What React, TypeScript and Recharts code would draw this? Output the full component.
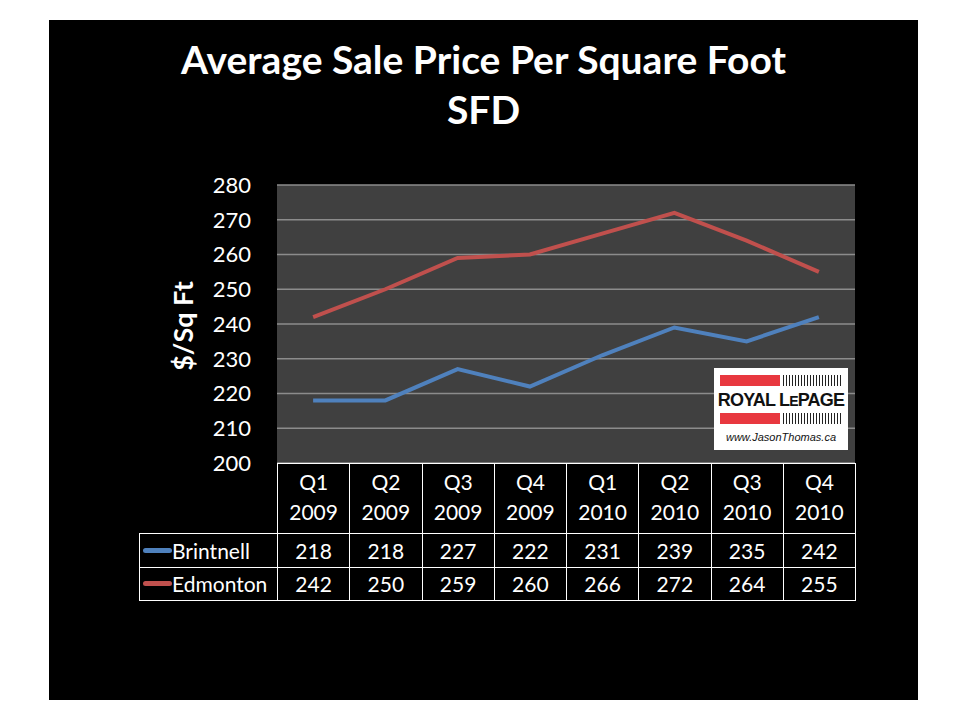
import { LineChart, Line, XAxis, YAxis, CartesianGrid } from "recharts";

const quarters = ["Q1", "Q2", "Q3", "Q4", "Q1", "Q2", "Q3", "Q4"];
const years = ["2009", "2009", "2009", "2009", "2010", "2010", "2010", "2010"];
const brintnell = [218, 218, 227, 222, 231, 239, 235, 242];
const edmonton = [242, 250, 259, 260, 266, 272, 264, 255];
const yTicks = [200, 210, 220, 230, 240, 250, 260, 270, 280];

const series = [
  { name: "Brintnell", values: brintnell, color: "#4F81BD" },
  { name: "Edmonton", values: edmonton, color: "#C0504D" },
];

const data = quarters.map((q, i) => ({
  period: `${q} ${years[i]}`,
  Brintnell: brintnell[i],
  Edmonton: edmonton[i],
}));

const font = "Lato, 'Open Sans', sans-serif";

// plot box
const PL = 277;
const PR = 855;
const PT = 185;
const PB = 463;
const colW = (PR - PL) / quarters.length;
const tableLeft = 139;
const headH = 70;
const rowH = 33.5;

const Logo = () => (
  <div
    style={{
      position: "absolute",
      left: 714,
      top: 368,
      width: 134,
      height: 82,
      background: "#fff",
    }}
  >
    {[7, 45].map((t) => (
      <div key={t}>
        <div style={{ position: "absolute", left: 6, top: t, width: 60, height: 11, background: "#E8383F" }} />
        <div
          style={{
            position: "absolute",
            left: 69,
            top: t,
            width: 60,
            height: 11,
            background:
              "repeating-linear-gradient(90deg, #222 0px, #222 1px, #fff 1px, #fff 3px)",
          }}
        />
      </div>
    ))}
    <div
      style={{
        position: "absolute",
        left: 0,
        top: 21,
        width: 134,
        textAlign: "center",
        whiteSpace: "nowrap",
        fontFamily: "'Liberation Sans', Arial, sans-serif",
        fontWeight: 700,
        fontSize: 18,
        lineHeight: "22px",
        letterSpacing: -0.8,
        color: "#111",
      }}
    >
      ROYAL L<span style={{ fontSize: 14 }}>E</span>PAGE
    </div>
    <div
      style={{
        position: "absolute",
        left: 0,
        top: 63,
        width: 134,
        textAlign: "center",
        whiteSpace: "nowrap",
        fontFamily: "'Liberation Sans', Arial, sans-serif",
        fontStyle: "italic",
        fontSize: 11,
        lineHeight: "13px",
        color: "#111",
      }}
    >
      www.JasonThomas.ca
    </div>
  </div>
);

const cell = (extra: React.CSSProperties): React.CSSProperties => ({
  position: "absolute",
  boxSizing: "border-box",
  color: "#fff",
  fontFamily: font,
  fontSize: 21,
  display: "flex",
  alignItems: "center",
  justifyContent: "center",
  whiteSpace: "nowrap",
  ...extra,
});

const DataTable = () => (
  <>
    {quarters.map((q, i) => (
      <div
        key={"h" + i}
        style={cell({
          left: PL + i * colW,
          top: PB,
          width: colW + 1,
          height: headH + 1,
          border: "1.5px solid #fff",
          flexDirection: "column",
          lineHeight: "30px",
          paddingBottom: 4,
        })}
      >
        <span>{q}</span>
        <span>{years[i]}</span>
      </div>
    ))}
    {series.map((s, r) => {
      const top = PB + headH + r * rowH;
      return (
        <div key={s.name}>
          <div
            style={cell({
              left: tableLeft,
              top,
              width: PL - tableLeft + 1,
              height: rowH + 1,
              border: "1.5px solid #fff",
              justifyContent: "flex-start",
            })}
          >
            <span
              style={{
                display: "inline-block",
                width: 29,
                height: 5,
                borderRadius: 3,
                background: s.color,
                marginLeft: 3,
              }}
            />
            <span>{s.name}</span>
          </div>
          {s.values.map((v, i) => (
            <div
              key={i}
              style={cell({
                left: PL + i * colW,
                top,
                width: colW + 1,
                height: rowH + 1,
                border: "1.5px solid #fff",
              })}
            >
              {v}
            </div>
          ))}
        </div>
      );
    })}
  </>
);

export default function App() {
  return (
    <div
      style={{
        position: "absolute",
        left: 0,
        top: 0,
        width: 960,
        height: 720,
        background: "#fff",
        overflow: "hidden",
      }}
    >
      <div
        style={{
          position: "absolute",
          left: 49,
          top: 20,
          width: 869,
          height: 680,
          background: "#000",
        }}
      />
      <div
        style={{
          position: "absolute",
          left: 49,
          top: 34,
          width: 869,
          textAlign: "center",
          color: "#fff",
          fontFamily: font,
          fontWeight: 700,
          fontSize: 39,
          lineHeight: "50px",
          whiteSpace: "nowrap",
        }}
      >
        Average Sale Price Per Square Foot
        <br />
        SFD
      </div>
      <div
        style={{
          position: "absolute",
          left: 183 - 100,
          top: 326 - 18,
          width: 200,
          height: 36,
          lineHeight: "36px",
          textAlign: "center",
          transform: "rotate(-90deg)",
          color: "#fff",
          fontFamily: font,
          fontWeight: 700,
          fontSize: 27,
        }}
      >
        $/Sq Ft
      </div>
      <div style={{ position: "absolute", left: 0, top: 0 }}>
        <LineChart
          width={960}
          height={720}
          data={data}
          margin={{ top: PT, right: 960 - PR, bottom: 720 - PB, left: PL - 60 }}
        >
          <CartesianGrid
            vertical={false}
            fill="#404040"
            stroke="#8c8c8c"
            strokeWidth={1.5}
          />
          <XAxis dataKey="period" scale="band" hide />
          <YAxis
            width={60}
            domain={[200, 280]}
            ticks={yTicks}
            axisLine={false}
            tickLine={false}
            tickSize={6}
            tickMargin={20}
            tick={{ fill: "#fff", fontSize: 22, fontFamily: font }}
          />
          {series.map((s) => (
            <Line
              key={s.name}
              dataKey={s.name}
              type="linear"
              stroke={s.color}
              strokeWidth={4}
              dot={false}
              isAnimationActive={false}
            />
          ))}
        </LineChart>
      </div>
      <DataTable />
      <Logo />
    </div>
  );
}
